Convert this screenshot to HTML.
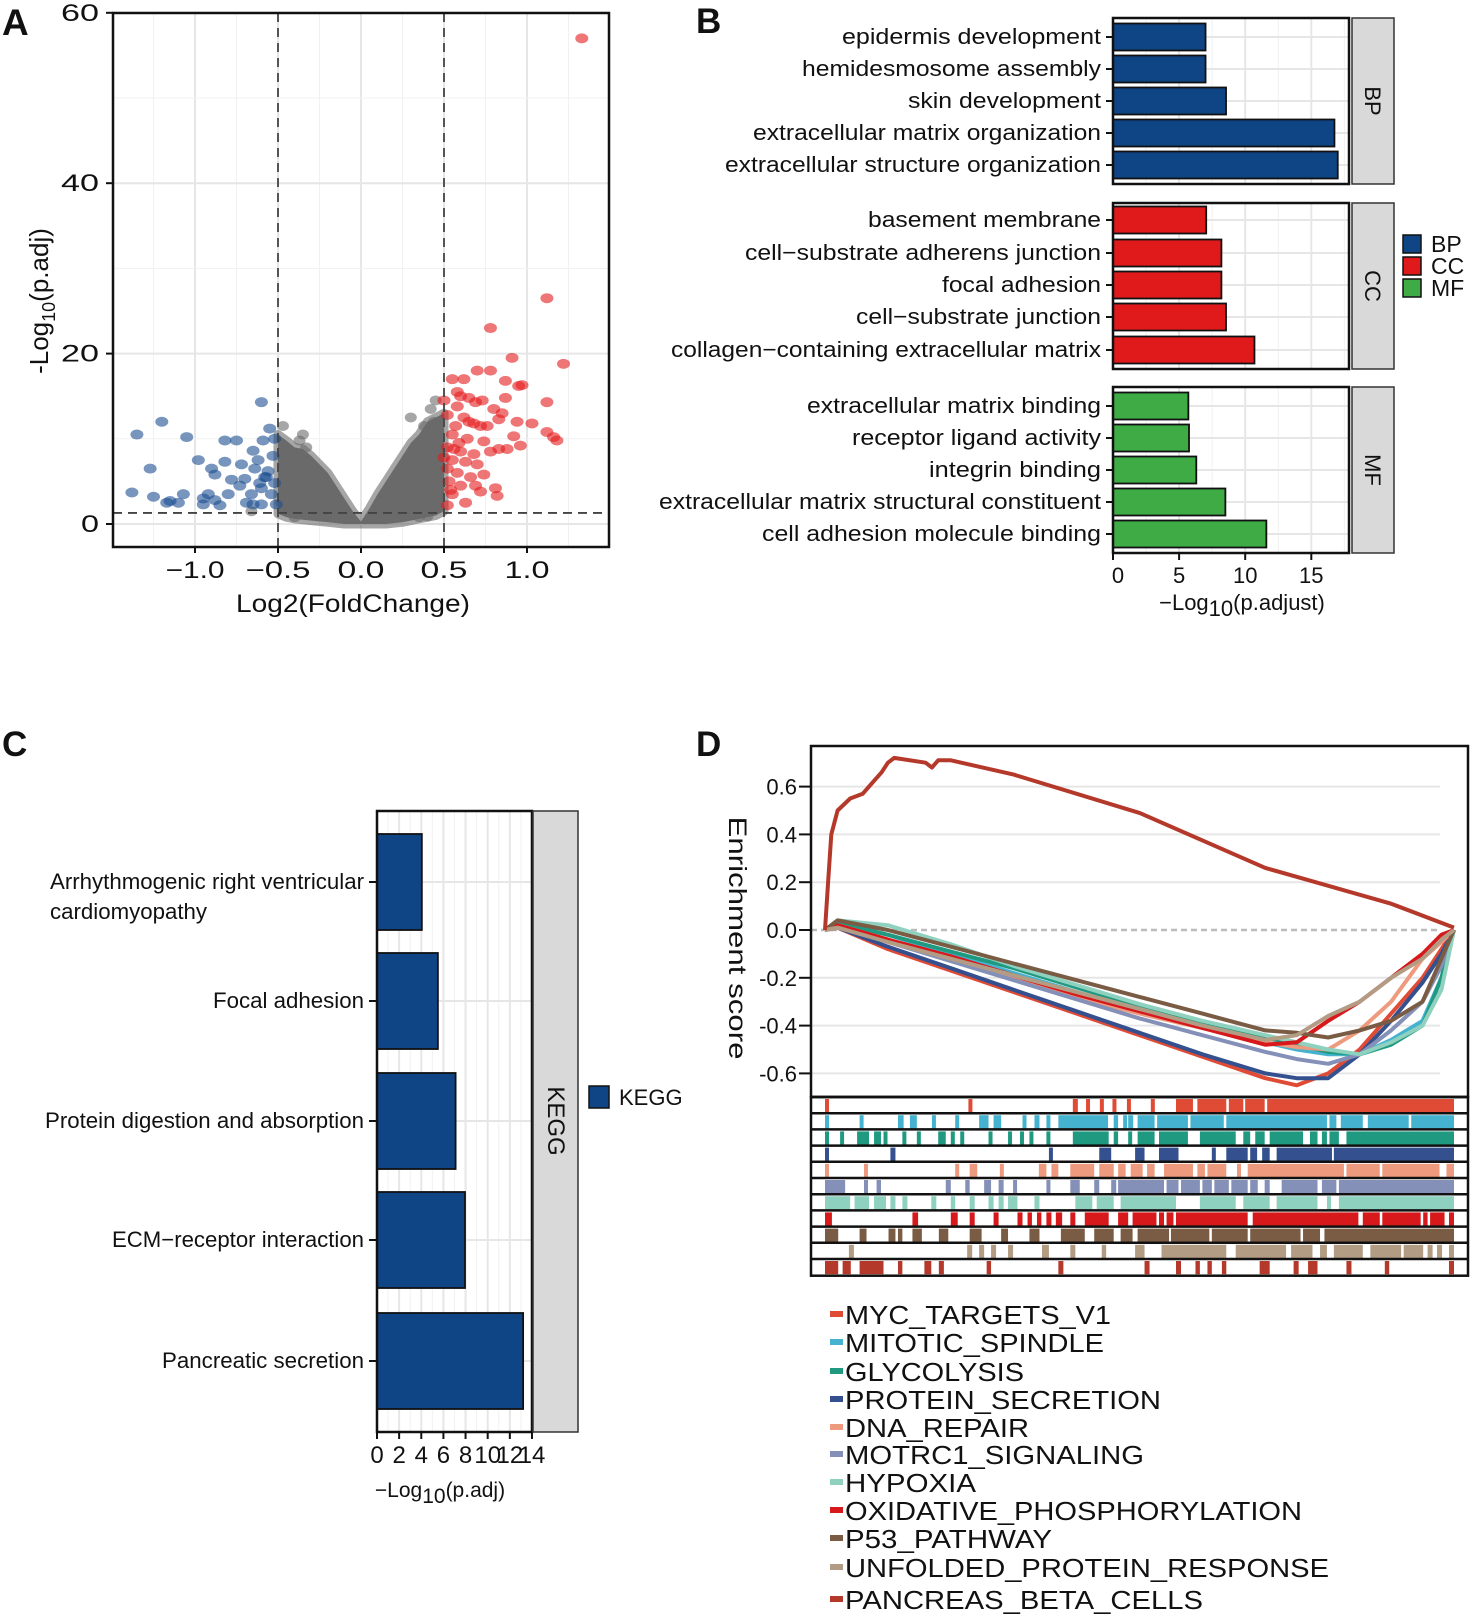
<!DOCTYPE html>
<html><head><meta charset="utf-8"><style>
html,body{margin:0;padding:0;background:#fff}
svg{display:block}
text{font-family:"Liberation Sans",Arial,sans-serif;fill:#111}
</style></head>
<body>
<svg id="fig" xmlns="http://www.w3.org/2000/svg" width="1472" height="1614" viewBox="0 0 1472 1614"></svg>
<script>
// ---------- Panel A data ----------
const grayEnvX = [-0.5,-0.45,-0.4,-0.35,-0.3,-0.25,-0.2,-0.15,-0.1,-0.05,0,0.05,0.1,0.15,0.2,0.25,0.3,0.35,0.4,0.45,0.5];
const grayEnvTop = [10.5,9.8,9,8.8,8,7,6,4.5,3,1.5,0.3,1.8,3.5,5,6.5,8,9.5,10.5,12,12.5,13];
const grayEnvBot = [1.2,0.8,0.6,0.5,0.4,0.3,0.2,0.1,0,0,0,0,0,0,0.1,0.2,0.4,0.6,0.8,1,1.5];
const grayX = [-0.47,-0.35,-0.37,-0.33,0.3,0.42,0.45,0.38,0.44,-0.66,-0.4,0.35,0.47,-0.48,0.4];
const grayY = [11.5,10.5,9.8,9,12.5,13.5,14.5,11.5,12,1.5,0.8,0.8,2,2.5,0.9];
const blueX = [-1.35,-1.2,-1.05,-1.27,-1.38,-1.25,-1.15,-1.17,-1.1,-1.07,-0.98,-0.95,-0.92,-0.9,-0.88,-0.85,-0.82,-0.82,-0.8,-0.78,-0.75,-0.73,-0.7,-0.69,-0.66,-0.65,-0.64,-0.62,-0.61,-0.6,-0.6,-0.59,-0.58,-0.56,-0.55,-0.54,-0.53,-0.52,-0.52,-0.51,-0.57,-0.65,-0.72,-0.88,-0.95,-0.6];
const blueY = [10.5,12,10.2,6.5,3.7,3.2,2.7,2.5,2.5,3.5,7.5,3,3.5,6.5,5.8,2.2,9.8,7.3,3.5,5.2,9.8,4.5,5.3,2.5,3.5,8.6,6.5,7.5,4.8,14.3,2.3,9.8,5.5,6.2,11.2,3.5,8,10,4.8,2.3,5.5,2.3,7,2.8,2.3,4.2];
const redX = [1.33,1.12,0.78,0.91,1.22,0.7,0.78,0.62,0.55,0.87,0.95,0.97,0.58,0.6,0.65,0.73,0.69,0.87,1.12,0.5,0.58,0.8,0.85,0.52,0.62,0.83,0.94,1.03,0.57,0.68,0.72,0.76,1.12,1.16,1.18,0.92,0.55,0.64,0.74,0.83,0.88,0.96,0.52,0.6,0.68,0.78,0.55,0.63,0.7,0.52,0.58,0.66,0.74,0.53,0.6,0.69,0.81,0.82,0.55,0.63,0.52,0.72,0.56,0.65,0.59,0.5,0.54];
const redY = [57,26.5,23,19.5,18.8,18,18,17,17,16.8,16.2,16.3,15.5,15,14.8,14.5,14.3,14.8,14.3,14.5,13.8,13.5,13,12.8,12.5,12.3,12,11.8,11.5,11.8,11.5,11.5,10.8,10.2,9.8,10.3,10.5,10,9.7,8.8,8.8,9.2,9,8.5,8.2,8.5,7.5,7.3,7,6.5,6,5.5,5.8,5,4.5,4.5,4.2,3.3,3.5,2.5,2.2,3.8,8.8,12,9.5,7.8,4];
const aXTicks = [-1.0,-0.5,0.0,0.5,1.0];
const aXTickLabels = ["\u22121.0","\u22120.5","0.0","0.5","1.0"];
const aYTicks = [0,20,40,60];

// ---------- Panel B data ----------
const bpTerms = ["epidermis development","hemidesmosome assembly","skin development","extracellular matrix organization","extracellular structure organization"];
const bpVals = [7.0,7.0,8.55,16.75,17.0];
const ccTerms = ["basement membrane","cell\u2212substrate adherens junction","focal adhesion","cell\u2212substrate junction","collagen\u2212containing extracellular matrix"];
const ccVals = [7.05,8.2,8.2,8.55,10.7];
const mfTerms = ["extracellular matrix binding","receptor ligand activity","integrin binding","extracellular matrix structural constituent","cell adhesion molecule binding"];
const mfVals = [5.7,5.75,6.3,8.5,11.6];
const bXTicks = [0,5,10,15];

// ---------- Panel C data ----------
const keggTerms = ["Arrhythmogenic right ventricular|cardiomyopathy","Focal adhesion","Protein digestion and absorption","ECM\u2212receptor interaction","Pancreatic secretion"];
const keggVals = [4.05,5.5,7.1,7.95,13.2];
const cXTicks = [0,2,4,6,8,10,12,14];

// ---------- Panel D data ----------
const gseaNames = ["MYC_TARGETS_V1","MITOTIC_SPINDLE","GLYCOLYSIS","PROTEIN_SECRETION","DNA_REPAIR","MOTRC1_SIGNALING","HYPOXIA","OXIDATIVE_PHOSPHORYLATION","P53_PATHWAY","UNFOLDED_PROTEIN_RESPONSE","PANCREAS_BETA_CELLS"];
const esRanks = [0,0.02,0.1,0.2,0.3,0.4,0.5,0.6,0.7,0.75,0.8,0.85,0.9,0.95,0.98,1];
const esMyc = [0,0.01,-0.08,-0.17,-0.26,-0.35,-0.44,-0.53,-0.62,-0.65,-0.6,-0.5,-0.35,-0.2,-0.08,0];
const esMitotic = [0,0.03,-0.02,-0.1,-0.18,-0.26,-0.34,-0.41,-0.47,-0.5,-0.52,-0.52,-0.46,-0.38,-0.2,0];
const esGlyco = [0,0.03,-0.02,-0.09,-0.16,-0.24,-0.32,-0.39,-0.45,-0.48,-0.51,-0.52,-0.48,-0.4,-0.2,0];
const esProtein = [0,0.01,-0.07,-0.16,-0.25,-0.34,-0.43,-0.52,-0.6,-0.62,-0.62,-0.52,-0.38,-0.22,-0.1,0];
const esDna = [0,0.02,-0.04,-0.12,-0.2,-0.28,-0.35,-0.41,-0.47,-0.49,-0.5,-0.42,-0.3,-0.12,-0.05,0];
const esMotrc = [0,0.02,-0.05,-0.13,-0.21,-0.29,-0.37,-0.44,-0.51,-0.54,-0.56,-0.52,-0.42,-0.3,-0.15,0];
const esHypoxia = [0,0.04,0.02,-0.06,-0.15,-0.23,-0.31,-0.38,-0.44,-0.47,-0.5,-0.52,-0.47,-0.4,-0.25,0];
const esOxid = [0,0.02,-0.04,-0.11,-0.19,-0.27,-0.34,-0.41,-0.48,-0.47,-0.38,-0.3,-0.2,-0.1,-0.02,0];
const esP53 = [0,0.04,0,-0.07,-0.14,-0.21,-0.28,-0.35,-0.42,-0.43,-0.45,-0.42,-0.38,-0.3,-0.12,0];
const esUnfolded = [0,0.01,-0.05,-0.12,-0.19,-0.26,-0.33,-0.4,-0.46,-0.44,-0.36,-0.3,-0.2,-0.12,-0.04,0];
const pancRanks = [0,0.005,0.01,0.02,0.04,0.06,0.07,0.09,0.1,0.11,0.16,0.17,0.18,0.2,0.3,0.5,0.7,0.78,0.9,1];
const esPancreas = [0,0.2,0.4,0.5,0.55,0.57,0.6,0.66,0.7,0.72,0.7,0.68,0.71,0.71,0.65,0.49,0.26,0.2,0.11,0.01];
const hitsMyc = [[0,0.004],[0.228,0.234],[0.394,0.402],[0.415,0.42],[0.437,0.442],[0.457,0.462],[0.48,0.485],[0.518,0.523],[0.558,0.585],[0.592,0.638],[0.642,0.665],[0.668,0.699],[0.703,1]];
const hitsMitotic = [[0,0.004],[0.055,0.06],[0.116,0.125],[0.135,0.146],[0.17,0.174],[0.207,0.211],[0.245,0.26],[0.268,0.28],[0.314,0.318],[0.333,0.341],[0.352,0.356],[0.371,0.45],[0.459,0.466],[0.474,0.478],[0.482,0.49],[0.497,0.524],[0.528,0.577],[0.581,0.634],[0.638,0.798],[0.802,0.813],[0.82,0.855],[0.863,0.928],[0.932,1]];
const hitsGlyco = [[0,0.006],[0.024,0.03],[0.051,0.07],[0.078,0.089],[0.093,0.097],[0.123,0.127],[0.146,0.15],[0.18,0.192],[0.2,0.204],[0.215,0.219],[0.26,0.264],[0.291,0.295],[0.31,0.314],[0.325,0.329],[0.352,0.356],[0.394,0.451],[0.459,0.466],[0.482,0.486],[0.497,0.524],[0.531,0.577],[0.596,0.653],[0.665,0.676],[0.684,0.699],[0.707,0.76],[0.771,0.783],[0.79,0.798],[0.802,0.817],[0.829,1]];
const hitsProtein = [[0,0.004],[0.104,0.112],[0.356,0.361],[0.436,0.455],[0.493,0.508],[0.531,0.562],[0.615,0.619],[0.638,0.672],[0.676,0.687],[0.695,0.707],[0.718,0.806],[0.809,1]];
const hitsDna = [[0,0.004],[0.062,0.066],[0.207,0.211],[0.23,0.242],[0.278,0.282],[0.34,0.352],[0.36,0.371],[0.39,0.428],[0.436,0.459],[0.466,0.478],[0.486,0.505],[0.512,0.524],[0.539,0.585],[0.592,0.604],[0.608,0.638],[0.655,0.66],[0.672,0.825],[0.829,0.882],[0.886,0.977],[0.988,1]];
const hitsMotrc = [[0,0.032],[0.062,0.066],[0.082,0.089],[0.192,0.2],[0.223,0.23],[0.253,0.264],[0.276,0.284],[0.299,0.303],[0.352,0.356],[0.39,0.405],[0.428,0.436],[0.455,0.463],[0.466,0.539],[0.543,0.562],[0.566,0.596],[0.6,0.615],[0.619,0.642],[0.646,0.672],[0.676,0.688],[0.699,0.707],[0.726,0.783],[0.79,0.813],[0.817,1]];
const hitsHypoxia = [[0,0.04],[0.047,0.07],[0.078,0.097],[0.104,0.112],[0.123,0.131],[0.169,0.177],[0.2,0.207],[0.23,0.238],[0.26,0.268],[0.276,0.284],[0.291,0.306],[0.333,0.341],[0.398,0.425],[0.432,0.459],[0.47,0.558],[0.596,0.653],[0.665,0.707],[0.718,0.783],[0.798,0.802],[0.817,1]];
const hitsOxid = [[0,0.011],[0.139,0.148],[0.2,0.211],[0.23,0.238],[0.268,0.276],[0.306,0.314],[0.322,0.329],[0.337,0.344],[0.352,0.36],[0.367,0.377],[0.39,0.398],[0.413,0.451],[0.466,0.482],[0.489,0.527],[0.531,0.539],[0.543,0.554],[0.558,0.672],[0.68,0.848],[0.855,0.882],[0.886,0.947],[0.951,0.958],[0.962,0.985],[0.992,1]];
const hitsP53 = [[0,0.021],[0.055,0.066],[0.101,0.112],[0.116,0.123],[0.139,0.154],[0.181,0.196],[0.23,0.249],[0.28,0.291],[0.325,0.341],[0.375,0.413],[0.428,0.459],[0.47,0.489],[0.497,0.547],[0.55,0.611],[0.615,0.672],[0.676,0.756],[0.76,0.787],[0.794,1]];
const hitsUnfolded = [[0.038,0.046],[0.226,0.234],[0.245,0.253],[0.264,0.272],[0.291,0.299],[0.345,0.356],[0.39,0.398],[0.44,0.447],[0.493,0.508],[0.535,0.638],[0.653,0.733],[0.741,0.775],[0.787,0.798],[0.809,0.855],[0.867,0.916],[0.92,0.951],[0.958,0.966],[0.973,0.981],[0.992,1]];
const hitsPancreas = [[0,0.021],[0.028,0.041],[0.055,0.093],[0.116,0.123],[0.158,0.169],[0.181,0.189],[0.257,0.264],[0.371,0.379],[0.508,0.516],[0.558,0.566],[0.589,0.596],[0.608,0.615],[0.631,0.638],[0.691,0.707],[0.745,0.753],[0.768,0.783],[0.829,0.837],[0.89,0.897],[0.992,1]];
const esYTicks = [0.6,0.4,0.2,0.0,-0.2,-0.4,-0.6];

// ---------- helpers ----------
const NS = "http://www.w3.org/2000/svg";
const svg = document.getElementById("fig");
function mk(tag, attrs, parent){
  const el = document.createElementNS(NS, tag);
  for (const k in attrs) el.setAttribute(k, attrs[k]);
  (parent || svg).appendChild(el);
  return el;
}
function txt(s, attrs, parent){
  const el = mk("text", attrs, parent);
  el.textContent = s;
  return el;
}
function grp(parent){ return mk("g", {}, parent); }

// ================= PANEL A =================
const gA = grp();


const xA = v => 361 + v*166;
const yA = v => 524 - v*8.52;
const aL = 113, aR = 609, aT = 13, aB = 547;
let el;
for (let v = -1.25; v <= 1.3; v += 0.25){
  const major = Math.abs(v*2 - Math.round(v*2)) < 1e-6;
  el = mk("line",{x1:xA(v),x2:xA(v),y1:aT,y2:aB,stroke:major?"#e6e6e6":"#f1f1f1","stroke-width":major?2:1},gA);
  
  
}
for (let v = 0; v <= 60; v += 10){
  el = mk("line",{x1:aL,x2:aR,y1:yA(v),y2:yA(v),stroke:v%20===0?"#e6e6e6":"#f1f1f1","stroke-width":v%20===0?2:1},gA);
  
  
}
let pts = [];
for (let i=0;i<grayEnvX.length;i++) pts.push(xA(grayEnvX[i])+","+yA(grayEnvTop[i]));
for (let i=grayEnvX.length-1;i>=0;i--) pts.push(xA(grayEnvX[i])+","+yA(grayEnvBot[i]));
el = mk("polygon",{points:pts.join(" "),fill:"#6a6a6a",stroke:"#6a6a6a","stroke-opacity":0.6,"stroke-width":9,"stroke-linejoin":"round"},gA);


for (let i=0;i<grayX.length;i++){
  el = mk("ellipse",{cx:xA(grayX[i]),cy:yA(grayY[i]),rx:6,ry:5,fill:"#6a6a6a","fill-opacity":0.6},gA);
  
  
}
for (let i=0;i<blueX.length;i++){
  el = mk("ellipse",{cx:xA(blueX[i]),cy:yA(blueY[i]),rx:6.5,ry:5,fill:"#1d4f91","fill-opacity":0.6},gA);
  
  
}
for (let i=0;i<redX.length;i++){
  el = mk("ellipse",{cx:xA(redX[i]),cy:yA(redY[i]),rx:6.5,ry:5,fill:"#e41a1c","fill-opacity":0.6},gA);
  
  
}
[-0.5,0.5].forEach(v=>{
  el = mk("line",{x1:xA(v),x2:xA(v),y1:aT,y2:aB,stroke:"#444","stroke-width":1.8,"stroke-dasharray":"9,6"},gA);
  
  
});
el = mk("line",{x1:aL,x2:aR,y1:yA(1.3),y2:yA(1.3),stroke:"#444","stroke-width":1.8,"stroke-dasharray":"9,6"},gA);


el = mk("rect",{x:aL,y:aT,width:aR-aL,height:aB-aT,fill:"none",stroke:"#111","stroke-width":2.5},gA);


const aXW = [59,65,47,47,45];
aXTicks.forEach((v,i)=>{
  el = mk("line",{x1:xA(v),x2:xA(v),y1:aB,y2:aB+6,stroke:"#111","stroke-width":2},gA);
  
  
  el = txt(aXTickLabels[i],{x:xA(v),y:578,"text-anchor":"middle","font-size":24,textLength:aXW[i],lengthAdjust:"spacingAndGlyphs"},gA);
  
  
});
aYTicks.forEach(v=>{
  el = mk("line",{x1:aL-7,x2:aL,y1:yA(v),y2:yA(v),stroke:"#111","stroke-width":2},gA);
  
  
  el = txt(String(v),{x:99,y:yA(v)+8,"text-anchor":"end","font-size":24,textLength:v===0?18:38,lengthAdjust:"spacingAndGlyphs"},gA);
  
  
});
el = txt("Log2(FoldChange)",{x:353,y:612,"text-anchor":"middle","font-size":25,textLength:234,lengthAdjust:"spacingAndGlyphs"},gA);


el = mk("text",{x:0,y:0,transform:"translate(48,301) rotate(-90)","text-anchor":"middle","font-size":26},gA);
el.innerHTML = '-Log<tspan font-size="18" dy="7">10</tspan><tspan dy="-7">(p.adj)</tspan>';


el = txt("A",{x:2,y:35,"font-size":37,"font-weight":"bold"},gA);



// ================= PANEL B =================
const gB = grp();


const xB = v => 1113 + v*13.22;
const bL = 1113, bR = 1349;
const facets = [
  {name:"BP", terms:bpTerms, vals:bpVals, top:18, bot:184, color:"#0f4585", rows:[37,69,101,133,165], labL:[842,802,908,753,725]},
  {name:"CC", terms:ccTerms, vals:ccVals, top:203, bot:369, color:"#e01a1a", rows:[220,253,285,317,350], labL:[868,745,942,856,671]},
  {name:"MF", terms:mfTerms, vals:mfVals, top:387, bot:553, color:"#3fab45", rows:[406,438,470,502,534], labL:[807,852,929,659,762]}
];
facets.forEach(f=>{
  const gf = grp(gB);
  
  
  for (let v=0; v<=17.5; v+=2.5){
    const major = v%5===0;
    el = mk("line",{x1:xB(v),x2:xB(v),y1:f.top,y2:f.bot,stroke:major?"#e6e6e6":"#f1f1f1","stroke-width":major?2:1},gf);
    
    
  }
  f.terms.forEach((t,i)=>{
    const cy = f.rows[i];
    el = mk("line",{x1:bL,x2:bR,y1:cy,y2:cy,stroke:"#e6e6e6","stroke-width":2},gf);
    
    
    el = mk("rect",{x:xB(0),y:cy-13.5,width:xB(f.vals[i])-xB(0),height:27,fill:f.color,stroke:"#111","stroke-width":1.8},gf);
    
    
    el = mk("line",{x1:bL-7,x2:bL,y1:cy,y2:cy,stroke:"#111","stroke-width":2},gf);
    
    
    el = txt(t,{x:1101,y:cy+7,"text-anchor":"end","font-size":22,textLength:1101-f.labL[i],lengthAdjust:"spacingAndGlyphs"},gf);
    
    
  });
  el = mk("rect",{x:bL,y:f.top,width:bR-bL,height:f.bot-f.top,fill:"none",stroke:"#111","stroke-width":2.5},gf);
  
  
  el = mk("rect",{x:1352,y:f.top,width:42,height:f.bot-f.top,fill:"#d9d9d9",stroke:"#333","stroke-width":1.5},gf);
  
  
  el = txt(f.name,{x:0,y:0,transform:"translate(1365,"+((f.top+f.bot)/2)+") rotate(90)","text-anchor":"middle","font-size":22},gf);
  
  
});
bXTicks.forEach(v=>{
  el = mk("line",{x1:xB(v),x2:xB(v),y1:553,y2:560,stroke:"#111","stroke-width":2},gB);
  
  
  el = txt(String(v),{x:xB(v)+(v===0?5:0),y:583,"text-anchor":"middle","font-size":22},gB);
  
  
});
el = mk("text",{x:1242,y:610,"text-anchor":"middle","font-size":22},gB);
el.innerHTML = '\u2212Log<tspan font-size="22" dy="6">10</tspan><tspan dy="-6">(p.adjust)</tspan>';


[["BP","#0f4585",235],["CC","#e01a1a",257],["MF","#3fab45",279]].forEach(e=>{
  el = mk("rect",{x:1403,y:e[2],width:18,height:18,fill:e[1],stroke:"#111","stroke-width":1.5},gB);
  
  
  el = txt(e[0],{x:1431,y:e[2]+17,"font-size":23},gB);
  
  
});
el = txt("B",{x:696,y:33,"font-size":35,"font-weight":"bold"},gB);



// ================= PANEL C =================
const gC = grp();


const xC = v => 377 + v*11.07;
const cT = 811, cB = 1432, cL = 377, cR = 532;
const cRows = [882,1001,1121,1240,1361];
for (let v=1; v<=14; v++){
  el = mk("line",{x1:xC(v),x2:xC(v),y1:cT,y2:cB,stroke:v%2===0?"#e6e6e6":"#f1f1f1","stroke-width":v%2===0?2:1},gC);
  
  
}
const labLefts = [[50],[213],[45],[112],[162]];
keggTerms.forEach((t,i)=>{
  const cy = cRows[i];
  el = mk("line",{x1:cL,x2:cR,y1:cy,y2:cy,stroke:"#e6e6e6","stroke-width":2},gC);
  
  
  el = mk("rect",{x:xC(0),y:cy-48,width:xC(keggVals[i])-xC(0),height:96,fill:"#0f4585",stroke:"#111","stroke-width":1.8},gC);
  
  
  el = mk("line",{x1:cL-8,x2:cL,y1:cy,y2:cy,stroke:"#111","stroke-width":2},gC);
  
  
  const parts = t.split("|");
  if (parts.length === 2){
    el = txt(parts[0],{x:364,y:cy+7,"text-anchor":"end","font-size":22,textLength:314,lengthAdjust:"spacingAndGlyphs"},gC);
    
    
    el = txt(parts[1],{x:50,y:cy+37,"font-size":22,textLength:157,lengthAdjust:"spacingAndGlyphs"},gC);
    
    
  } else {
    el = txt(t,{x:364,y:cy+7,"text-anchor":"end","font-size":22,textLength:364-labLefts[i][0],lengthAdjust:"spacingAndGlyphs"},gC);
    
    
  }
});
el = mk("rect",{x:cL,y:cT,width:cR-cL,height:cB-cT,fill:"none",stroke:"#111","stroke-width":2.5},gC);


el = mk("rect",{x:533,y:cT,width:45,height:cB-cT,fill:"#d9d9d9",stroke:"#333","stroke-width":1.5},gC);


el = txt("KEGG",{x:0,y:0,transform:"translate(548,1121) rotate(90)","text-anchor":"middle","font-size":24},gC);


cXTicks.forEach(v=>{
  el = mk("line",{x1:xC(v),x2:xC(v),y1:cB,y2:cB+7,stroke:"#111","stroke-width":2},gC);
  
  
  el = txt(String(v),{x:xC(v),y:1463,"text-anchor":"middle","font-size":24},gC);
  
  
});
el = mk("text",{x:440,y:1497,"text-anchor":"middle","font-size":21},gC);
el.innerHTML = '\u2212Log<tspan font-size="21" dy="6">10</tspan><tspan dy="-6">(p.adj)</tspan>';


el = mk("rect",{x:589,y:1086,width:20,height:22,fill:"#0f4585",stroke:"#111","stroke-width":1.5},gC);


el = txt("KEGG",{x:619,y:1105,"font-size":22},gC);


el = txt("C",{x:2,y:756,"font-size":35,"font-weight":"bold"},gC);



// ================= PANEL D =================
const gD = grp();


const dL = 811, dR = 1468, dT = 746, dB = 1097;
const xD = r => 825 + r*629;
const yD = v => 930 - v*239;
const colors = ["#e04b35","#45b3cf","#1f9a80","#34508e","#ee9a7e","#8590b8","#8fd1bf","#d7191c","#7a5c45","#b39c84","#b5392b"];
const esSeries = [esMyc,esMitotic,esGlyco,esProtein,esDna,esMotrc,esHypoxia,esOxid,esP53,esUnfolded];
const hitSeries = [hitsMyc,hitsMitotic,hitsGlyco,hitsProtein,hitsDna,hitsMotrc,hitsHypoxia,hitsOxid,hitsP53,hitsUnfolded,hitsPancreas];
esYTicks.forEach(v=>{
  el = mk("line",{x1:dL,x2:1440,y1:yD(v),y2:yD(v),stroke:v===0?"#bbb":"#e6e6e6","stroke-width":v===0?2.5:2,"stroke-dasharray":v===0?"6,4":"none"},gD);
  
  
  el = mk("line",{x1:dL-12,x2:dL,y1:yD(v),y2:yD(v),stroke:"#111","stroke-width":2},gD);
  
  
  el = txt(v.toFixed(1),{x:797,y:yD(v)+8,"text-anchor":"end","font-size":22},gD);
  
  
});
esSeries.forEach((s,k)=>{
  const d = s.map((v,i)=>(i?"L":"M")+xD(esRanks[i]).toFixed(1)+","+yD(v).toFixed(1)).join(" ");
  el = mk("path",{d:d,fill:"none",stroke:colors[k],"stroke-width":4,"stroke-linejoin":"round"},gD);
  
  
});
{
  const d = esPancreas.map((v,i)=>(i?"L":"M")+xD(pancRanks[i]).toFixed(1)+","+yD(v).toFixed(1)).join(" ");
  el = mk("path",{d:d,fill:"none",stroke:colors[10],"stroke-width":4,"stroke-linejoin":"round"},gD);
  
  
}
el = mk("rect",{x:dL,y:dT,width:dR-dL,height:dB-dT,fill:"none",stroke:"#111","stroke-width":2.5},gD);


el = txt("Enrichment score",{x:0,y:0,transform:"translate(729,938) rotate(90)","text-anchor":"middle","font-size":25,textLength:243,lengthAdjust:"spacingAndGlyphs"},gD);


const rugT = 1097, rowH = 16.2;
hitSeries.forEach((hs,k)=>{
  const y0 = rugT + k*rowH;
  hs.forEach(h=>{
    el = mk("rect",{x:xD(h[0]),y:y0+2,width:Math.max(4,xD(h[1])-xD(h[0])),height:rowH-3,fill:colors[k]},gD);
    
    
  });
  el = mk("line",{x1:dL,x2:dR,y1:y0,y2:y0,stroke:"#111","stroke-width":2.5},gD);
  
  
});
el = mk("rect",{x:dL,y:rugT,width:dR-dL,height:11*rowH+0.5,fill:"none",stroke:"#111","stroke-width":2.5},gD);


const legY = [1314,1342,1371,1399,1427,1454,1482,1510,1538,1567,1599];
const legEnd = [1111,1104,1024,1161,1029,1144,976,1302,1052,1329,1203];
gseaNames.forEach((n,k)=>{
  el = mk("rect",{x:830,y:legY[k]-3,width:13,height:6,fill:colors[k]},gD);
  
  
  el = txt(n,{x:845,y:legY[k]+10,"font-size":26,textLength:legEnd[k]-845,lengthAdjust:"spacingAndGlyphs"},gD);
  
  
});
el = txt("D",{x:696,y:756,"font-size":35,"font-weight":"bold"},gD);


</script>
</body></html>
